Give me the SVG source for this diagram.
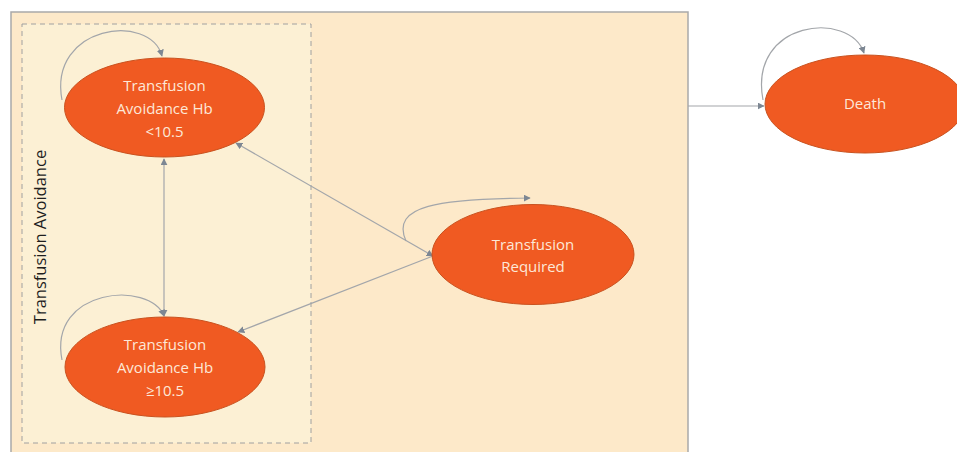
<svg xmlns="http://www.w3.org/2000/svg" width="957" height="452" viewBox="0 0 957 452">
<defs>
<marker id="ah" viewBox="0 0 10 10" refX="9" refY="5" markerWidth="7" markerHeight="7" orient="auto-start-reverse" markerUnits="userSpaceOnUse">
<path d="M0,0 L10,5 L0,10 z" fill="#7d8793"/>
</marker>
<style>
.node{fill:#f05a22;stroke:#c9521f;stroke-width:1}
.lbl{font-family:"Open Sans","Liberation Sans",sans-serif;font-size:15px;fill:#fde8d8;text-anchor:middle}
.con{fill:none;stroke:#a3a6aa;stroke-width:1.2}
</style>
</defs>
<rect width="957" height="452" fill="#ffffff"/>
<rect x="11" y="12" width="677" height="445" fill="#fde9c9" stroke="#a9a9a9" stroke-width="1.5"/>
<rect x="22" y="24" width="289" height="419" fill="#fcf0d4" stroke="#a0a0a0" stroke-width="1" stroke-dasharray="5,4"/>
<text transform="translate(46,237) rotate(-90)" font-family="'Open Sans','Liberation Sans',sans-serif" font-size="16.5" fill="#1e1e1e" text-anchor="middle">Transfusion Avoidance</text>
<g id="connectors">
<path class="con" d="M62,100 C48,25 150,12 162,56" marker-end="url(#ah)"/>
<path class="con" d="M62,360 C48,288 150,280 164,316" marker-end="url(#ah)"/>
<path class="con" d="M406,241 C390,205 440,199 530,198" marker-end="url(#ah)"/>
<path class="con" d="M763,100 C748,20 850,10 864,53" marker-end="url(#ah)"/>
<line class="con" x1="164" y1="159" x2="164" y2="316" marker-start="url(#ah)" marker-end="url(#ah)"/>
<line class="con" x1="236" y1="143" x2="433" y2="256" marker-start="url(#ah)" marker-end="url(#ah)"/>
<line class="con" x1="238" y1="332" x2="433" y2="256" marker-start="url(#ah)"/>
<line class="con" x1="688" y1="106" x2="764" y2="106" marker-end="url(#ah)"/>
</g>
<g id="n_low">
<ellipse class="node" cx="164.5" cy="107.5" rx="100" ry="49.5"/>
<text class="lbl" x="164.5" y="91">Transfusion</text>
<text class="lbl" x="164.5" y="114">Avoidance Hb</text>
<text class="lbl" x="164.5" y="137">&lt;10.5</text>
</g>
<g id="n_high">
<ellipse class="node" cx="165" cy="367" rx="100" ry="50"/>
<text class="lbl" x="165" y="350">Transfusion</text>
<text class="lbl" x="165" y="373">Avoidance Hb</text>
<text class="lbl" x="165" y="396">≥10.5</text>
</g>
<g id="n_req">
<ellipse class="node" cx="533" cy="254.5" rx="101" ry="50"/>
<text class="lbl" x="533" y="250">Transfusion</text>
<text class="lbl" x="533" y="272">Required</text>
</g>
<g id="n_death">
<ellipse class="node" cx="865" cy="104" rx="100" ry="49"/>
<text class="lbl" x="865" y="109">Death</text>
</g>
</svg>
